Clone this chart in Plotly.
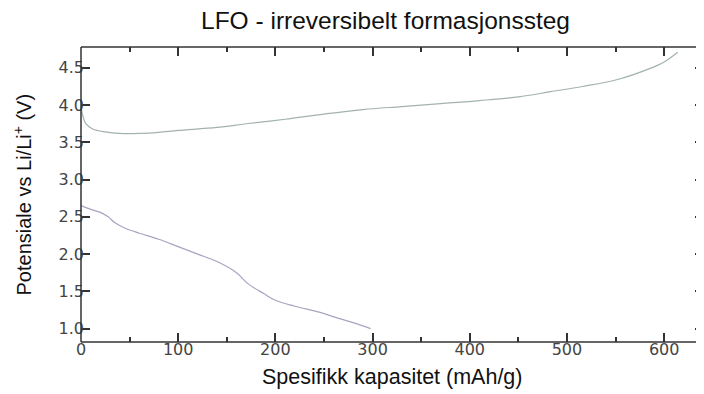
import plotly.graph_objects as go

# Charge (upper) curve
charge_x = [0, 2, 5, 12, 25, 40, 60, 80, 100, 140, 170, 210, 250, 290, 330, 370, 410, 450, 483, 516, 551, 585, 600, 614]
charge_y = [3.98, 3.85, 3.75, 3.68, 3.64, 3.62, 3.62, 3.635, 3.66, 3.70, 3.75, 3.81, 3.88, 3.94, 3.98, 4.02, 4.06, 4.11, 4.18, 4.25, 4.34, 4.49, 4.58, 4.71]

# Discharge (lower) curve
dis_x = [0, 10, 20, 28, 35, 45, 60, 80, 100, 120, 140, 160, 172, 188, 200, 220, 245, 262, 280, 298]
dis_y = [2.65, 2.60, 2.56, 2.50, 2.42, 2.35, 2.28, 2.20, 2.10, 2.00, 1.90, 1.75, 1.60, 1.47, 1.38, 1.30, 1.22, 1.15, 1.08, 1.00]

x_ticks = [0, 100, 200, 300, 400, 500, 600]
y_ticks = [1.0, 1.5, 2.0, 2.5, 3.0, 3.5, 4.0, 4.5]

fig = go.Figure()
fig.add_trace(go.Scatter(x=charge_x, y=charge_y, mode="lines", line=dict(color="#a3b3ac", width=1.2, shape="spline"), showlegend=False))
fig.add_trace(go.Scatter(x=dis_x, y=dis_y, mode="lines", line=dict(color="#aba2c2", width=1.2, shape="spline"), showlegend=False))

axis_common = dict(showgrid=False, zeroline=False, showline=False,
                   mirror="ticks", ticks="inside", ticklen=9, tickwidth=1.5, tickcolor="#333",
                   automargin=False, ticklabelstandoff=-4,
                   tickfont=dict(family="DejaVu Sans", size=16, color="#444"))

frame = dict(color="#333", width=1.5)

# page has an 8px body margin; figure sized so it fills the 704x394 window
fig.update_layout(
    width=696, height=386,
    margin=dict(l=73, r=0, t=39, b=52),
    paper_bgcolor="white", plot_bgcolor="white",
    title=dict(text="LFO - irreversibelt formasjonssteg", x=0.5424, xanchor="center", y=0.9689, yanchor="middle",
               font=dict(family="Liberation Sans", size=24.5, color="#111")),
    xaxis=dict(range=[0, 641], tickvals=x_ticks, ticktext=[str(v) for v in x_ticks],
               minor=dict(dtick=50, ticks="inside", ticklen=5, tickcolor="#333", tickwidth=1.5),
               **axis_common),
    yaxis=dict(range=[0.82, 4.78], tickvals=y_ticks, ticktext=[f"{v:.1f}" for v in y_ticks],
               **axis_common),
    shapes=[
        dict(type="line", xref="paper", yref="paper", x0=0, x1=0, y0=0, y1=1, line=frame),
        dict(type="line", xref="paper", yref="paper", x0=0, x1=1, y0=0, y1=0, line=frame),
        dict(type="line", xref="paper", yref="paper", x0=0, x1=1, y0=1, y1=1, line=frame),
    ],
    annotations=[
        dict(text="Spesifikk kapasitet (mAh/g)", xref="paper", yref="paper", x=0.5, y=-35/295,
             xanchor="center", yanchor="middle", showarrow=False,
             font=dict(family="Liberation Sans", size=21.5, color="#111")),
        dict(text="Potensiale vs Li/Li<sup>+</sup> (V)", xref="paper", yref="paper", x=-59/623, y=0.5,
             xanchor="center", yanchor="middle", textangle=-90, showarrow=False,
             font=dict(family="Liberation Sans", size=20, color="#111")),
    ],
)

fig.write_html("out.html")
